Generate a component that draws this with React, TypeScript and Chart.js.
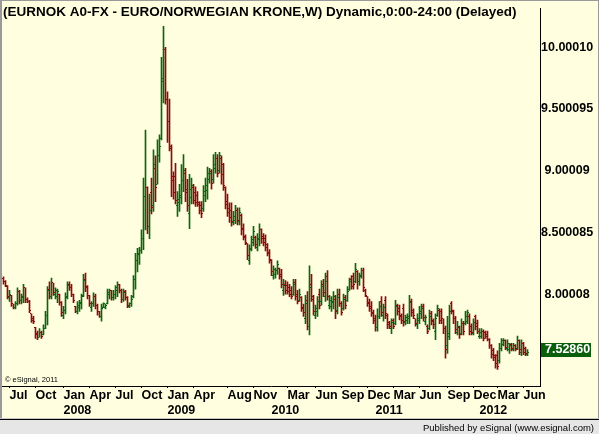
import React, { useEffect, useRef } from 'react';
import { Chart, registerables } from 'chart.js';

Chart.register(...registerables);

// Weekly EUR/NOK bars (index 0 = first bar on the left)
const opens = [
  8.13, 8.10, 8.06, 7.97, 7.99, 7.92, 7.89, 7.92, 8.02, 7.95, 7.97, 8.05, 7.96, 7.94, 7.84, 7.80, 7.73, 7.68, 7.65, 7.69,
  7.67, 7.72, 7.83, 8.04, 7.98, 8.09, 8.00, 7.98, 8.00, 7.93, 7.83, 7.87, 7.97, 8.08, 8.05, 8.00, 7.90, 7.86, 7.89, 7.92,
  7.99, 8.12, 8.06, 7.99, 7.89, 7.92, 7.98, 7.91, 7.86, 7.82, 7.89, 7.89, 7.92, 8.00, 8.03, 7.97, 8.00, 8.03, 8.08, 8.03,
  7.96, 8.02, 7.97, 7.90, 7.92, 7.98, 8.12, 8.27, 8.32, 8.35, 8.45, 8.79, 8.86, 8.55, 8.82, 8.72, 9.02, 8.89, 9.12, 9.26,
  9.72, 9.98, 9.58, 9.40, 9.18, 8.95, 8.95, 8.72, 8.74, 8.78, 8.92, 8.98, 8.85, 8.65, 8.78, 8.86, 8.82, 8.80, 8.74, 8.72,
  8.69, 8.80, 8.84, 8.93, 8.99, 8.93, 9.02, 9.10, 9.00, 9.10, 9.05, 8.86, 8.75, 8.69, 8.68, 8.58, 8.60, 8.68, 8.59, 8.64,
  8.53, 8.47, 8.41, 8.27, 8.37, 8.42, 8.46, 8.38, 8.44, 8.52, 8.47, 8.45, 8.40, 8.34, 8.27, 8.15, 8.16, 8.19, 8.21, 8.16,
  8.03, 8.08, 8.07, 8.05, 8.03, 8.00, 8.09, 8.00, 7.95, 7.97, 7.88, 7.80, 7.95, 7.74, 8.08, 7.96, 7.83, 7.86, 8.00, 7.94,
  8.08, 7.98, 8.14, 7.91, 7.90, 7.93, 7.96, 7.87, 8.00, 7.92, 7.88, 7.97, 7.95, 8.04, 8.12, 8.14, 8.10, 8.18, 8.10, 8.15,
  8.19, 8.03, 7.98, 7.93, 7.90, 7.85, 7.80, 7.73, 7.82, 7.94, 7.83, 7.95, 7.83, 7.77, 7.72, 7.79, 7.76, 7.91, 7.88, 7.83,
  7.88, 7.77, 7.79, 7.80, 7.94, 7.87, 7.80, 7.75, 7.79, 7.84, 7.90, 7.78, 7.74, 7.72, 7.84, 7.79, 7.70, 7.83, 7.87, 7.86,
  7.80, 7.72, 7.58, 7.66, 7.92, 7.86, 7.80, 7.69, 7.73, 7.68, 7.76, 7.76, 7.78, 7.82, 7.74, 7.68, 7.82, 7.76, 7.66, 7.66,
  7.70, 7.69, 7.67, 7.63, 7.58, 7.54, 7.50, 7.50, 7.46, 7.56, 7.59, 7.62, 7.56, 7.55, 7.59, 7.55, 7.58, 7.56, 7.62, 7.53,
  7.60, 7.56, 7.51,
];
const highs = [
  8.14, 8.11, 8.07, 8.03, 7.99, 7.92, 7.94, 8.05, 8.03, 8.00, 8.08, 8.05, 7.97, 7.95, 7.84, 7.82, 7.73, 7.70, 7.72, 7.70,
  7.75, 7.86, 8.06, 8.10, 8.13, 8.09, 8.05, 8.04, 8.00, 7.94, 7.90, 8.01, 8.10, 8.10, 8.08, 8.00, 7.90, 7.94, 7.95, 8.00,
  8.16, 8.17, 8.07, 7.99, 7.94, 8.01, 8.00, 7.92, 7.86, 7.92, 7.93, 7.92, 8.04, 8.04, 8.03, 8.03, 8.07, 8.10, 8.08, 8.04,
  8.04, 8.03, 7.98, 7.93, 7.99, 8.15, 8.33, 8.37, 8.38, 8.52, 8.94, 9.33, 8.87, 8.81, 8.94, 9.17, 9.12, 9.25, 9.29, 9.92,
  10.17, 10.00, 9.64, 9.58, 9.21, 8.99, 9.06, 8.83, 8.89, 9.05, 9.13, 9.02, 8.93, 8.97, 8.94, 8.89, 8.87, 8.83, 8.75, 8.75,
  8.88, 8.94, 9.03, 9.02, 9.01, 9.13, 9.15, 9.13, 9.15, 9.12, 9.06, 8.87, 8.81, 8.74, 8.74, 8.67, 8.72, 8.70, 8.70, 8.65,
  8.57, 8.48, 8.41, 8.40, 8.47, 8.55, 8.47, 8.49, 8.57, 8.53, 8.49, 8.48, 8.41, 8.36, 8.28, 8.23, 8.21, 8.27, 8.21, 8.20,
  8.12, 8.11, 8.10, 8.08, 8.06, 8.12, 8.12, 8.03, 8.04, 7.98, 7.92, 7.99, 8.02, 8.23, 8.16, 7.99, 7.91, 7.98, 8.04, 8.11,
  8.12, 8.17, 8.19, 7.99, 7.98, 8.02, 7.99, 8.04, 8.04, 7.94, 8.00, 7.99, 8.06, 8.13, 8.15, 8.17, 8.25, 8.19, 8.17, 8.21,
  8.21, 8.04, 7.98, 7.96, 7.94, 7.87, 7.83, 7.88, 7.94, 7.98, 7.92, 7.98, 7.84, 7.78, 7.80, 7.80, 7.95, 7.92, 7.91, 7.84,
  7.92, 7.83, 7.84, 7.99, 7.96, 7.88, 7.80, 7.84, 7.90, 7.92, 7.92, 7.83, 7.75, 7.87, 7.86, 7.80, 7.84, 7.91, 7.88, 7.88,
  7.80, 7.74, 7.82, 7.91, 7.94, 7.87, 7.82, 7.78, 7.74, 7.80, 7.78, 7.86, 7.87, 7.84, 7.76, 7.80, 7.83, 7.79, 7.72, 7.72,
  7.71, 7.70, 7.70, 7.64, 7.59, 7.56, 7.51, 7.54, 7.60, 7.64, 7.64, 7.63, 7.63, 7.60, 7.60, 7.60, 7.59, 7.66, 7.63, 7.63,
  7.61, 7.57, 7.55,
];
const lows = [
  8.08, 8.06, 7.96, 7.94, 7.90, 7.88, 7.88, 7.91, 7.92, 7.92, 7.93, 7.93, 7.93, 7.85, 7.77, 7.76, 7.64, 7.63, 7.65, 7.64,
  7.67, 7.72, 7.75, 7.96, 7.96, 7.99, 7.96, 7.93, 7.91, 7.82, 7.80, 7.84, 7.96, 8.03, 7.98, 7.93, 7.85, 7.84, 7.86, 7.88,
  7.98, 8.02, 7.96, 7.90, 7.86, 7.90, 7.88, 7.83, 7.81, 7.78, 7.89, 7.88, 7.92, 7.96, 7.95, 7.95, 7.96, 7.98, 8.01, 7.93,
  7.94, 7.95, 7.89, 7.89, 7.90, 7.97, 8.04, 8.18, 8.24, 8.33, 8.36, 8.52, 8.49, 8.45, 8.65, 8.67, 8.75, 8.89, 9.07, 9.25,
  9.55, 9.54, 9.23, 9.16, 8.79, 8.77, 8.73, 8.63, 8.67, 8.73, 8.83, 8.75, 8.67, 8.53, 8.73, 8.73, 8.71, 8.71, 8.65, 8.62,
  8.67, 8.75, 8.77, 8.90, 8.85, 8.90, 8.98, 8.95, 8.98, 8.89, 8.84, 8.69, 8.63, 8.58, 8.55, 8.56, 8.57, 8.56, 8.56, 8.48,
  8.44, 8.40, 8.28, 8.24, 8.35, 8.39, 8.37, 8.35, 8.39, 8.41, 8.39, 8.35, 8.31, 8.25, 8.15, 8.12, 8.13, 8.16, 8.12, 8.05,
  7.99, 8.00, 8.00, 7.98, 7.96, 7.99, 7.95, 7.92, 7.94, 7.86, 7.82, 7.76, 7.71, 7.67, 7.94, 7.83, 7.80, 7.82, 7.88, 7.91,
  7.98, 7.94, 7.95, 7.88, 7.86, 7.88, 7.80, 7.84, 7.90, 7.83, 7.87, 7.88, 7.94, 8.03, 8.04, 8.04, 8.09, 8.04, 8.07, 8.13,
  8.02, 7.98, 7.90, 7.86, 7.82, 7.76, 7.70, 7.70, 7.80, 7.82, 7.78, 7.80, 7.72, 7.72, 7.68, 7.72, 7.75, 7.83, 7.79, 7.76,
  7.74, 7.75, 7.76, 7.76, 7.82, 7.80, 7.74, 7.72, 7.76, 7.80, 7.78, 7.75, 7.68, 7.71, 7.75, 7.72, 7.63, 7.82, 7.76, 7.76,
  7.68, 7.48, 7.52, 7.63, 7.84, 7.76, 7.68, 7.67, 7.64, 7.67, 7.67, 7.75, 7.76, 7.67, 7.67, 7.67, 7.71, 7.68, 7.64, 7.64,
  7.62, 7.64, 7.62, 7.56, 7.48, 7.46, 7.40, 7.39, 7.44, 7.54, 7.58, 7.55, 7.54, 7.52, 7.54, 7.54, 7.54, 7.55, 7.51, 7.50,
  7.51, 7.50, 7.50,
];
const closes = [
  8.10, 8.07, 7.98, 8.00, 7.92, 7.89, 7.92, 8.02, 7.95, 7.98, 8.05, 7.96, 7.94, 7.87, 7.79, 7.78, 7.67, 7.65, 7.69, 7.66,
  7.72, 7.83, 8.03, 7.98, 8.09, 8.01, 8.03, 8.02, 7.93, 7.85, 7.87, 7.98, 8.07, 8.05, 8.00, 7.95, 7.86, 7.91, 7.93, 7.98,
  8.11, 8.05, 7.99, 7.92, 7.92, 7.98, 7.91, 7.86, 7.82, 7.88, 7.92, 7.91, 8.01, 8.03, 7.97, 8.00, 8.05, 8.08, 8.03, 7.96,
  8.01, 7.97, 7.91, 7.92, 7.96, 8.12, 8.27, 8.33, 8.35, 8.45, 8.79, 8.86, 8.55, 8.68, 8.70, 9.05, 8.86, 9.12, 9.20, 9.75,
  9.98, 9.58, 9.40, 9.20, 8.92, 8.82, 8.76, 8.77, 8.80, 8.92, 9.00, 8.82, 8.72, 8.85, 8.88, 8.76, 8.74, 8.73, 8.68, 8.65,
  8.83, 8.88, 8.98, 8.98, 8.90, 9.05, 9.10, 8.98, 9.12, 8.97, 8.88, 8.73, 8.66, 8.62, 8.59, 8.63, 8.68, 8.60, 8.66, 8.52,
  8.46, 8.42, 8.31, 8.36, 8.44, 8.51, 8.40, 8.45, 8.52, 8.45, 8.42, 8.38, 8.33, 8.28, 8.18, 8.20, 8.19, 8.24, 8.14, 8.08,
  8.07, 8.03, 8.02, 8.00, 7.98, 8.08, 7.98, 7.94, 8.00, 7.89, 7.85, 7.92, 7.74, 8.05, 7.98, 7.86, 7.88, 7.94, 7.91, 8.06,
  8.01, 8.10, 7.98, 7.95, 7.94, 7.98, 7.86, 7.97, 7.92, 7.85, 7.96, 7.91, 8.02, 8.10, 8.06, 8.08, 8.20, 8.10, 8.14, 8.19,
  8.05, 7.99, 7.92, 7.88, 7.84, 7.79, 7.73, 7.82, 7.90, 7.85, 7.89, 7.84, 7.75, 7.74, 7.77, 7.74, 7.90, 7.86, 7.82, 7.79,
  7.78, 7.81, 7.82, 7.93, 7.85, 7.83, 7.76, 7.80, 7.86, 7.88, 7.81, 7.81, 7.70, 7.82, 7.78, 7.75, 7.80, 7.88, 7.79, 7.80,
  7.72, 7.55, 7.68, 7.86, 7.87, 7.80, 7.71, 7.74, 7.67, 7.76, 7.70, 7.82, 7.85, 7.70, 7.69, 7.77, 7.74, 7.70, 7.69, 7.70,
  7.64, 7.66, 7.63, 7.58, 7.51, 7.49, 7.44, 7.41, 7.56, 7.62, 7.62, 7.57, 7.60, 7.58, 7.56, 7.58, 7.55, 7.62, 7.55, 7.60,
  7.53, 7.52, 7.5286,
];

const monthTickIdx = [3, 16, 30, 43, 56, 69, 82, 95, 112, 125, 142, 156, 169, 182, 195, 208, 222, 235, 247, 260];
const monthLabels = ['Jul', 'Oct', 'Jan', 'Apr', 'Jul', 'Oct', 'Jan', 'Apr', 'Aug', 'Nov', 'Mar', 'Jun', 'Sep', 'Dec', 'Mar', 'Jun', 'Sep', 'Dec', 'Mar', 'Jun'];
const yearTickIdx = [30, 82, 134, 186, 238];
const yearLabels = ['2008', '2009', '2010', '2011', '2012'];
const yTickValues = [10.0001, 9.500095, 9.00009, 8.500085, 8.00008];
const yTickLabels = ['10.00010', '9.500095', '9.00009', '8.500085', '8.00008'];
const lastPriceLabel = '7.52860';
const TITLE = '(EURNOK A0-FX - EURO/NORWEGIAN KRONE,W) Dynamic,0:00-24:00 (Delayed)';
const COPYRIGHT = '\u00A9 eSignal, 2011';
const PUBLISHER = 'Published by eSignal (www.esignal.com)';

const W = 599;
const H = 434;
const BG = '#FFFFE0';
const GREEN = '#0d650d';
const RED = '#8c0b0b';
const BOX = '#0b5e0b';
const FONT = 'Arial, "Liberation Sans", sans-serif';

const ohlcTicks = {
  id: 'ohlcTicks',
  afterDatasetsDraw(chart: any) {
    const { ctx } = chart;
    const xs = chart.scales.x;
    const ys = chart.scales.y;
    ctx.save();
    for (let i = 0; i < closes.length; i++) {
      const px = Math.floor(xs.getPixelForValue(i));
      ctx.fillStyle = closes[i] >= opens[i] ? GREEN : RED;
      ctx.fillRect(px - 1, Math.floor(ys.getPixelForValue(opens[i])), 1, 1);
      ctx.fillRect(px + 1, Math.floor(ys.getPixelForValue(closes[i])), 1, 1);
    }
    ctx.restore();
  },
};

const decor = {
  id: 'decor',
  beforeDraw(chart: any) {
    const ctx = chart.ctx;
    ctx.save();
    ctx.fillStyle = BG;
    ctx.fillRect(0, 0, W, H);
    ctx.restore();
  },
  afterDraw(chart: any) {
    const ctx = chart.ctx;
    const ys = chart.scales.y;
    ctx.save();
    ctx.fillStyle = '#000';
    ctx.textAlign = 'left';
    ctx.textBaseline = 'middle';
    ctx.font = `bold 13.5px ${FONT}`;
    ctx.fillText(TITLE, 3, 12);
    ctx.font = `7.5px ${FONT}`;
    ctx.fillText(COPYRIGHT, 5, 380);

    const yp = Math.round(ys.getPixelForValue(closes[closes.length - 1]));
    ctx.fillStyle = BOX;
    ctx.fillRect(541, yp - 9, 50, 14);
    ctx.fillStyle = '#fff';
    ctx.font = `bold 12.5px ${FONT}`;
    ctx.fillText(lastPriceLabel, 545, yp - 2);

    ctx.fillStyle = '#c8c8c8';
    ctx.fillRect(0, 418, W, 1);
    ctx.fillStyle = '#000';
    ctx.fillRect(0, 419, W, 1);
    ctx.fillStyle = '#e6e6e6';
    ctx.fillRect(0, 420, W, H - 420);
    ctx.fillStyle = '#000';
    ctx.font = `9.5px ${FONT}`;
    ctx.textAlign = 'right';
    ctx.textBaseline = 'alphabetic';
    ctx.fillText(PUBLISHER, 594, 431);

    ctx.fillStyle = '#9a9a9a';
    ctx.fillRect(0, 0, 2, 418);
    ctx.fillRect(0, 0, W, 1);
    ctx.fillRect(W - 1, 0, 1, 418);
    ctx.restore();
  },
};

export default function App() {
  const ref = useRef<HTMLCanvasElement | null>(null);
  useEffect(() => {
    if (!ref.current) return;
    Chart.defaults.font.family = FONT;
    const xMin = -0.75;
    const xMax = 268.25;
    const labelFont = { family: FONT, size: 12.5, weight: 'bold' as const };
    const chart = new Chart(ref.current, {
      type: 'bar',
      data: {
        datasets: [
          {
            data: highs.map((h, i) => ({ x: i, y: [lows[i], h] })) as any,
            backgroundColor: closes.map((c, i) => (c >= opens[i] ? GREEN : RED)),
            borderWidth: 0,
            barThickness: 1,
            xAxisID: 'x',
            yAxisID: 'y',
          },
        ],
      },
      options: {
        animation: false,
        responsive: false,
        maintainAspectRatio: false,
        events: [],
        layout: { padding: { left: 2, top: 2, right: 0, bottom: 15 } },
        plugins: { legend: { display: false }, tooltip: { enabled: false }, title: { display: false } },
        scales: {
          x: {
            type: 'linear',
            position: 'bottom',
            min: xMin,
            max: xMax,
            offset: false,
            afterBuildTicks: (s: any) => {
              s.ticks = monthTickIdx.map((v) => ({ value: v }));
            },
            afterFit: (s: any) => {
              s.height = 16;
            },
            grid: { display: true, drawOnChartArea: false, drawTicks: true, tickLength: 2, color: '#000', offset: false },
            border: { display: true, color: '#000', width: 1 },
            ticks: {
              autoSkip: false,
              maxRotation: 0,
              minRotation: 0,
              align: 'start',
              padding: 0,
              color: '#000',
              font: labelFont,
              callback: (_v: any, i: number) => monthLabels[i],
            },
          },
          x2: {
            type: 'linear',
            position: 'bottom',
            min: xMin,
            max: xMax,
            offset: false,
            afterBuildTicks: (s: any) => {
              s.ticks = yearTickIdx.map((v) => ({ value: v }));
            },
            afterFit: (s: any) => {
              s.height = 17;
            },
            grid: { display: false, drawOnChartArea: false, drawTicks: false },
            border: { display: false },
            ticks: {
              autoSkip: false,
              maxRotation: 0,
              minRotation: 0,
              align: 'start',
              padding: 1.5,
              color: '#000',
              font: labelFont,
              callback: (_v: any, i: number) => yearLabels[i],
            },
          },
          y: {
            type: 'linear',
            position: 'right',
            min: 7.2551,
            max: 10.3148,
            beginAtZero: false,
            afterBuildTicks: (s: any) => {
              s.ticks = yTickValues.map((v) => ({ value: v }));
            },
            afterFit: (s: any) => {
              s.width = 59;
            },
            grid: { display: false, drawTicks: false },
            border: { display: true, color: '#000', width: 1 },
            ticks: {
              crossAlign: 'center',
              padding: 1,
              color: '#000',
              font: labelFont,
              callback: (_v: any, i: number) => yTickLabels[i],
            },
          },
        },
      } as any,
      plugins: [decor, ohlcTicks],
    });
    return () => chart.destroy();
  }, []);
  return (
    <div style={{ position: 'fixed', left: 0, top: 0, width: W, height: H }}>
      <canvas ref={ref} width={W} height={H} style={{ display: 'block', width: W, height: H }} />
    </div>
  );
}
